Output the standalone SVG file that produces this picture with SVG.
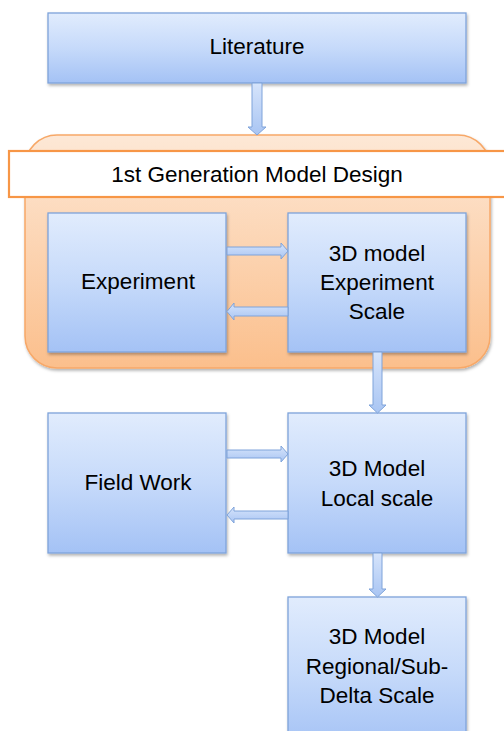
<svg xmlns="http://www.w3.org/2000/svg" width="504" height="731" viewBox="0 0 504 731">
<defs>
<linearGradient id="blue" x1="0" y1="0" x2="0" y2="1">
<stop offset="0" stop-color="#e1ecfd"/>
<stop offset="0.5" stop-color="#c6dafa"/>
<stop offset="1" stop-color="#a4c2f5"/>
</linearGradient>
<linearGradient id="orange" x1="0" y1="0" x2="0" y2="1">
<stop offset="0" stop-color="#fde8d6"/>
<stop offset="1" stop-color="#fbbf8c"/>
</linearGradient>
<linearGradient id="arr" x1="0" y1="0" x2="0" y2="1">
<stop offset="0" stop-color="#d6e4fb"/>
<stop offset="1" stop-color="#a9c5f3"/>
</linearGradient>
<filter id="sh" x="-10%" y="-10%" width="125%" height="125%">
<feDropShadow dx="1" dy="2" stdDeviation="1.5" flood-color="#000" flood-opacity="0.3"/>
</filter>
</defs>
<style>
.box{fill:url(#blue);stroke:#7ea3da;stroke-width:1.3;filter:url(#sh)}
.t{font-family:"Liberation Sans",Arial,sans-serif;font-size:22.5px;fill:#000;text-anchor:middle}
.a{fill:url(#arr);stroke:#7ea3da;stroke-width:1}
</style>
<rect width="504" height="731" fill="#fff"/>
<g id="container">
<rect x="25" y="135" width="465" height="233" rx="32" ry="32" fill="url(#orange)" stroke="#f7a868" stroke-width="1.5" filter="url(#sh)"/>
</g>
<g id="header">
<rect x="9" y="151" width="500" height="46" fill="#fff" stroke="#f79646" stroke-width="2.2"/>
<text class="t" x="257" y="182" font-size="22.2px">1st Generation Model Design</text>
</g>
<g id="literature">
<rect class="box" x="48" y="13" width="418" height="70"/>
<text class="t" x="257" y="54">Literature</text>
</g>
<g id="experiment">
<rect class="box" x="48" y="213" width="178" height="139"/>
<text class="t" x="138" y="289">Experiment</text>
</g>
<g id="model-exp">
<rect class="box" x="288" y="213" width="178" height="139"/>
<text class="t" x="377" y="261">3D model</text>
<text class="t" x="377" y="290">Experiment</text>
<text class="t" x="377" y="319">Scale</text>
</g>
<g id="fieldwork">
<rect class="box" x="48" y="413" width="178" height="140"/>
<text class="t" x="138" y="490">Field Work</text>
</g>
<g id="model-local">
<rect class="box" x="288" y="413" width="178" height="140"/>
<text class="t" x="377" y="476">3D Model</text>
<text class="t" x="377" y="506">Local scale</text>
</g>
<g id="model-regional">
<rect class="box" x="288" y="597" width="178" height="150"/>
<text class="t" x="377" y="644">3D Model</text>
<text class="t" x="377" y="674">Regional/Sub-</text>
<text class="t" x="377" y="703">Delta Scale</text>
</g>
<g id="connectors">
<path class="a" d="M252,83 H262 V127 H266 L257,135 L248,127 H252 Z"/>
<path class="a" d="M227,247 H281 V243 L288,251 L281,259 V255 H227 Z"/>
<path class="a" d="M288,307 H234 V303 L227,311.5 L234,320 V316 H288 Z"/>
<path class="a" d="M373,352 H382 V405 H386 L377.5,413 L369,405 H373 Z"/>
<path class="a" d="M227,450 H281 V446 L288,454 L281,462 V458 H227 Z"/>
<path class="a" d="M288,511 H234 V507 L227,515 L234,523 V519 H288 Z"/>
<path class="a" d="M373,553 H382 V589 H386 L377.5,597 L369,589 H373 Z"/>
</g>
</svg>
